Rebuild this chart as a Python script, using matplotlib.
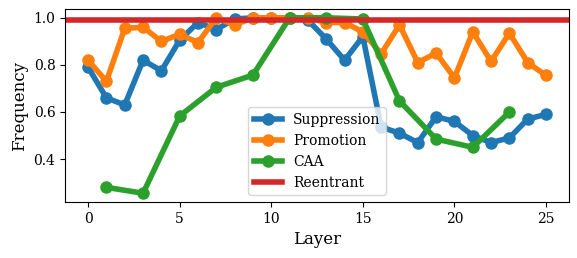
import matplotlib
matplotlib.use("Agg")
import matplotlib.pyplot as plt
import numpy as np

plt.rcParams['font.family'] = ['DejaVu Serif']

layers = list(range(26))
suppression = [0.79, 0.66, 0.63, 0.82, 0.775, 0.905, 0.98, 0.95, 0.995, 1.0, 1.0, 1.0,
               0.99, 0.91, 0.82, 0.92, 0.536, 0.51, 0.47, 0.58, 0.56, 0.50, 0.47, 0.49, 0.57, 0.59]
promotion = [0.82, 0.73, 0.955, 0.96, 0.90, 0.93, 0.895, 1.0, 0.97, 1.0, 1.0, 1.0,
             1.0, 0.98, 0.98, 0.94, 0.847, 0.97, 0.81, 0.85, 0.745, 0.94, 0.815, 0.935, 0.81, 0.755]
caa_layers = [1, 3, 5, 7, 9, 11, 13, 15, 17, 19, 21, 23]
caa = [0.28, 0.255, 0.583, 0.705, 0.757, 1.0, 1.0, 0.995, 0.647, 0.485, 0.45, 0.60]
reentrant = 0.99

fig, ax = plt.subplots(figsize=(5.77, 2.58), dpi=100)
fig.subplots_adjust(left=0.113, right=0.986, top=0.965, bottom=0.217)

ax.plot(layers, suppression, '-o', lw=4, ms=8, color='#1f77b4', label='Suppression')
ax.plot(layers, promotion, '-o', lw=4, ms=8, color='#ff7f0e', label='Promotion')
ax.plot(caa_layers, caa, '-o', lw=4, ms=8, color='#2ca02c', label='CAA')
ax.axhline(reentrant, lw=4, color='#d62728', label='Reentrant')

ax.set_xlabel('Layer', fontsize=12)
ax.set_ylabel('Frequency', fontsize=12)
ax.set_xticks([0, 5, 10, 15, 20, 25])
ax.set_yticks([0.4, 0.6, 0.8, 1.0])
ax.legend(loc='lower center', fontsize=10)

fig.savefig('out.png', dpi=100)
